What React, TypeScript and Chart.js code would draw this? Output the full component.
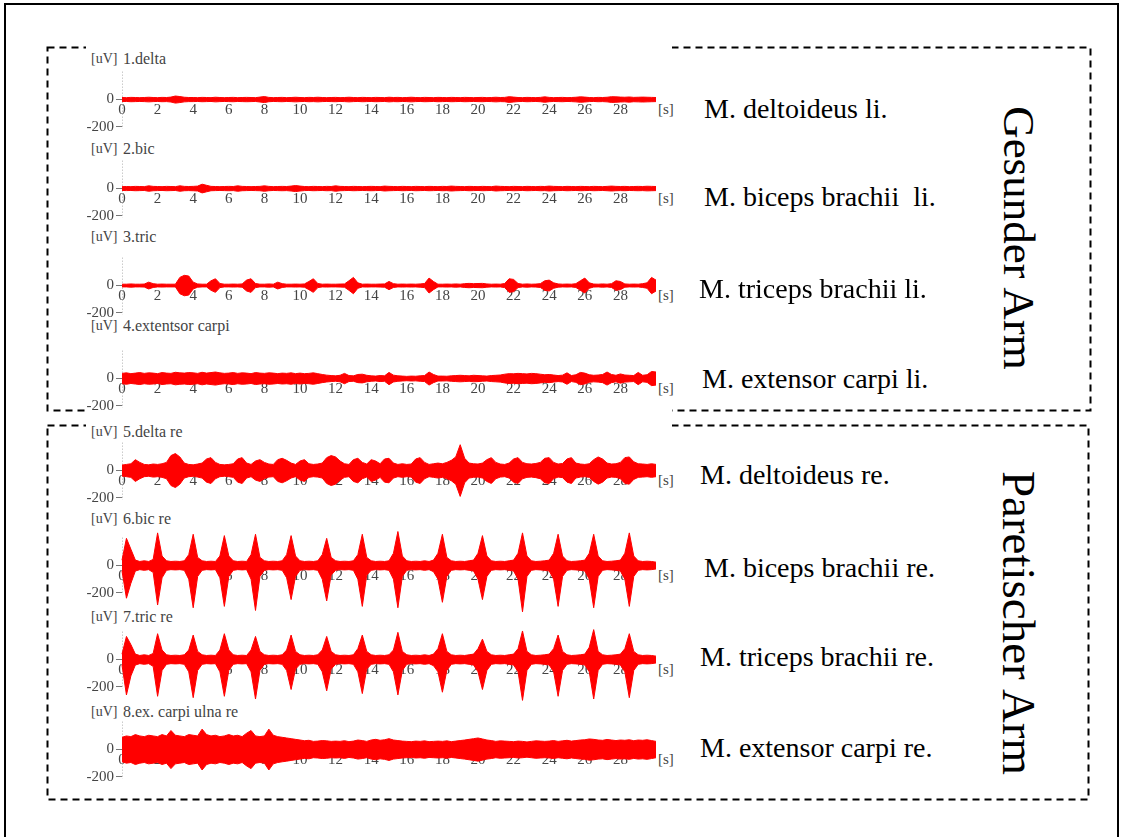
import React, { useEffect, useRef } from 'react';
import { Chart, registerables } from 'chart.js';

Chart.register(...registerables);

// ---------------- data ----------------
const TIME_STEP = 0.25; // seconds between envelope samples
const X_MAX = 30;
const X_TICKS = [0, 2, 4, 6, 8, 10, 12, 14, 16, 18, 20, 22, 24, 26, 28];
const Y_TICKS = [0, -200];
const Y_UNIT = '[uV]';
const X_UNIT = '[s]';

const PANEL_TITLES = [
  '1.delta',
  '2.bic',
  '3.tric',
  '4.extentsor carpi',
  '5.delta re',
  '6.bic re',
  '7.tric re',
  '8.ex. carpi ulna re',
];

const MUSCLE_LABELS = [
  'M. deltoideus li.',
  'M. biceps brachii  li.',
  'M. triceps brachii li.',
  'M. extensor carpi li.',
  'M. deltoideus re.',
  'M. biceps brachii re.',
  'M. triceps brachii re.',
  'M. extensor carpi re.',
];

const GROUP_LABELS = ['Gesunder Arm', 'Paretischer Arm'];

// EMG envelopes in uV, one value every 0.25 s (0 .. 30 s); upper (positive) side
const AMP_1 = [
  15, 14, 16, 15, 14, 15, 17, 15,
  14, 16, 15, 18, 26, 22, 17, 15,
  15, 14, 16, 15, 14, 17, 15, 14,
  15, 16, 14, 15, 16, 15, 14, 18,
  22, 16, 14, 15, 16, 14, 15, 17,
  15, 14, 16, 15, 17, 15, 14, 15,
  16, 14, 15, 17, 15, 14, 16, 15,
  14, 16, 15, 14, 17, 15, 16, 14,
  15, 17, 15, 14, 16, 15, 14, 16,
  15, 14, 16, 15, 14, 16, 15, 14,
  15, 16, 14, 15, 17, 15, 16, 21,
  18, 15, 14, 16, 15, 14, 16, 20,
  16, 14, 15, 16, 14, 15, 17, 20,
  18, 15, 14, 16, 15, 17, 21, 20,
  18, 17, 19, 16, 17, 18, 17, 16,
  15,
];

const AMP_2 = [
  14, 15, 14, 16, 15, 14, 20, 16,
  15, 14, 16, 15, 14, 20, 16, 15,
  16, 18, 32, 24, 16, 15, 14, 15,
  16, 15, 20, 16, 15, 14, 15, 16,
  20, 16, 14, 15, 16, 15, 18, 22,
  18, 15, 14, 16, 15, 14, 16, 15,
  20, 16, 15, 14, 16, 15, 14, 15,
  16, 15, 14, 18, 16, 15, 14, 16,
  15, 14, 16, 15, 14, 16, 15, 14,
  16, 15, 18, 16, 15, 14, 16, 15,
  14, 16, 15, 14, 18, 16, 15, 14,
  16, 15, 14, 16, 15, 14, 16, 15,
  18, 16, 15, 14, 16, 15, 14, 16,
  15, 14, 16, 15, 14, 16, 18, 16,
  15, 16, 14, 15, 16, 15, 17, 16,
  15,
];

const AMP_3 = [
  10, 10, 12, 10, 10, 11, 25, 14,
  10, 11, 10, 10, 10, 60, 75, 70,
  25, 12, 10, 10, 35, 50, 15, 10,
  10, 11, 10, 12, 40, 50, 15, 10,
  10, 12, 10, 25, 14, 10, 10, 11,
  10, 12, 30, 50, 15, 10, 11, 10,
  10, 11, 12, 35, 60, 20, 10, 11,
  10, 10, 11, 12, 30, 14, 10, 11,
  10, 11, 10, 12, 15, 55, 30, 10,
  10, 11, 10, 12, 10, 14, 16, 14,
  15, 16, 12, 10, 11, 10, 15, 50,
  45, 15, 10, 12, 10, 11, 14, 35,
  40, 20, 12, 10, 11, 10, 14, 35,
  55, 20, 11, 10, 12, 10, 14, 35,
  30, 12, 10, 11, 10, 14, 20, 60,
  40,
];

const AMP_4 = [
  38, 42, 36, 40, 44, 38, 42, 40,
  36, 44, 40, 38, 46, 42, 40, 44,
  42, 38, 46, 40, 44, 48, 42, 38,
  40, 44, 38, 42, 40, 36, 44, 40,
  38, 42, 40, 36, 40, 38, 42, 36,
  40, 36, 38, 42, 36, 30, 25, 22,
  20, 24, 38, 22, 20, 30, 32, 24,
  20, 18, 22, 20, 45, 25, 20, 18,
  16, 18, 17, 20, 22, 48, 30, 18,
  18, 17, 20, 22, 24, 22, 20, 24,
  22, 20, 18, 22, 24, 26, 32, 36,
  35, 38, 36, 34, 38, 36, 32, 28,
  30, 26, 22, 25, 42, 22, 28, 45,
  40, 28, 24, 26, 30, 48, 30, 24,
  34, 26, 24, 22, 45, 24, 28, 52,
  48,
];

const AMP_5 = [
  40, 45, 50, 80, 60, 45, 42, 48,
  45, 50, 60, 110, 125, 100, 55, 45,
  42, 48, 55, 85, 95, 60, 45, 42,
  45, 50, 85, 95, 55, 45, 70, 80,
  60, 48, 45, 80, 90, 75, 55, 45,
  70, 80, 50, 45, 48, 55, 95, 110,
  100, 70, 50, 45, 80, 90, 60, 48,
  80, 70, 50, 85, 90, 55, 45, 50,
  45, 48, 85, 95, 60, 45, 50, 55,
  50, 60, 75, 100, 190, 90, 55, 50,
  48, 55, 80, 95, 60, 48, 45, 55,
  85, 95, 60, 50, 48, 52, 60, 90,
  95, 60, 48, 52, 85, 95, 55, 48,
  45, 50, 80, 100, 85, 55, 48, 50,
  60, 95, 100, 65, 50, 48, 45, 50,
  45,
];

const AMP_6_UP = [
  40, 200, 120, 40, 30, 35, 30, 45,
  240, 70, 35, 30, 32, 30, 35, 80,
  230, 60, 35, 30, 32, 30, 70, 220,
  70, 35, 30, 32, 30, 80, 230, 60,
  35, 30, 32, 30, 35, 80, 220, 70,
  35, 30, 32, 30, 35, 80, 200, 60,
  35, 30, 32, 30, 35, 80, 230, 60,
  35, 30, 32, 30, 35, 90, 250, 70,
  35, 30, 32, 30, 35, 30, 40, 90,
  230, 60, 35, 30, 32, 30, 35, 40,
  90, 220, 70, 35, 30, 32, 30, 35,
  40, 90, 240, 70, 35, 30, 32, 35,
  40, 90, 230, 70, 35, 30, 32, 35,
  40, 90, 230, 70, 35, 30, 32, 35,
  40, 90, 240, 70, 35, 30, 32, 30,
  25,
];

const AMP_6_DOWN = [
  40, 240, 130, 40, 30, 35, 30, 50,
  290, 90, 35, 30, 32, 30, 35, 100,
  310, 80, 35, 30, 32, 30, 90, 300,
  80, 35, 30, 32, 30, 100, 330, 80,
  35, 30, 32, 30, 35, 90, 250, 80,
  35, 30, 32, 30, 35, 100, 260, 70,
  35, 30, 32, 30, 35, 100, 300, 70,
  35, 30, 32, 30, 35, 100, 310, 80,
  35, 30, 32, 30, 35, 30, 45, 100,
  270, 80, 35, 30, 32, 30, 35, 40,
  100, 250, 80, 35, 30, 32, 30, 35,
  40, 100, 340, 80, 35, 30, 32, 35,
  40, 100, 300, 80, 35, 30, 32, 35,
  40, 100, 310, 80, 35, 30, 32, 35,
  40, 100, 300, 80, 35, 30, 32, 30,
  25,
];

const AMP_7_UP = [
  40, 170, 110, 40, 30, 35, 30, 45,
  190, 70, 35, 30, 32, 30, 35, 70,
  180, 60, 35, 30, 32, 30, 70, 190,
  70, 35, 30, 32, 30, 70, 170, 60,
  35, 30, 32, 30, 35, 70, 180, 60,
  35, 30, 32, 30, 35, 70, 170, 60,
  35, 30, 32, 30, 35, 80, 180, 60,
  35, 30, 32, 30, 35, 70, 200, 60,
  35, 30, 32, 30, 35, 30, 40, 80,
  190, 60, 35, 30, 32, 30, 35, 40,
  80, 150, 60, 35, 30, 32, 30, 35,
  40, 80, 210, 60, 35, 30, 32, 35,
  40, 80, 180, 60, 35, 30, 32, 35,
  40, 90, 220, 60, 35, 30, 32, 35,
  40, 80, 190, 60, 35, 30, 32, 30,
  25,
];

const AMP_7_DOWN = [
  40, 260, 120, 40, 30, 35, 30, 50,
  270, 80, 35, 30, 32, 30, 35, 90,
  280, 80, 35, 30, 32, 30, 90, 270,
  80, 35, 30, 32, 30, 90, 290, 80,
  35, 30, 32, 30, 35, 80, 220, 70,
  35, 30, 32, 30, 35, 90, 230, 70,
  35, 30, 32, 30, 35, 90, 250, 70,
  35, 30, 32, 30, 35, 90, 260, 80,
  35, 30, 32, 30, 35, 30, 45, 90,
  240, 80, 35, 30, 32, 30, 35, 40,
  90, 220, 80, 35, 30, 32, 30, 35,
  40, 90, 300, 80, 35, 30, 32, 35,
  40, 90, 270, 80, 35, 30, 32, 35,
  40, 90, 290, 80, 35, 30, 32, 35,
  40, 90, 280, 80, 35, 30, 32, 30,
  25,
];

const AMP_8 = [
  90, 100, 95, 110, 100, 95, 105, 100,
  95, 110, 100, 140, 105, 100, 95, 110,
  105, 100, 150, 110, 100, 105, 95, 100,
  110, 100, 105, 95, 120, 140, 100, 95,
  100, 150, 105, 95, 90, 85, 80, 75,
  70, 65, 68, 60, 62, 66, 64, 60,
  62, 60, 65, 58, 62, 70, 66, 60,
  70, 75, 68, 72, 80, 70, 66, 62,
  60, 58, 62, 60, 64, 58, 60, 62,
  60, 64, 58, 62, 66, 70, 75, 80,
  85, 78, 70, 66, 60, 64, 62, 60,
  58, 62, 60, 56, 60, 64, 62, 60,
  62, 66, 60, 64, 68, 62, 66, 70,
  72, 78, 75, 70, 68, 74, 70, 66,
  70, 68, 72, 65, 70, 68, 72, 66,
  60,
];

const PANEL_UP = [AMP_1, AMP_2, AMP_3, AMP_4, AMP_5, AMP_6_UP, AMP_7_UP, AMP_8];
const PANEL_DOWN = [AMP_1, AMP_2, AMP_3, AMP_4, AMP_5, AMP_6_DOWN, AMP_7_DOWN, AMP_8];

// ---------------- layout ----------------
const SERIF = "'Liberation Serif', 'DejaVu Serif', 'Times New Roman', Times, serif";
const RED = 'rgb(255,0,0)';
const ZERO_Y = [99, 188, 285, 378, 470, 565, 659, 749];
const TITLE_Y = [59, 149, 237, 326, 432, 519, 617, 712];
const LABEL_Y = [109, 197, 289, 379, 475, 568, 657, 748];
const LABEL_X = [704, 704, 699, 702, 700, 704, 700, 700];
const CANVAS_LEFT = 60;
const CANVAS_W = 640;
const CANVAS_H = 120;
const Y_MIN = -400;
const Y_MAX = 320;
const PAD_TOP = 2;
const PAD_BOTTOM = 2;
const ZERO_OFFSET = PAD_TOP + ((CANVAS_H - PAD_TOP - PAD_BOTTOM) * Y_MAX) / (Y_MAX - Y_MIN);

const axisDots = {
  id: 'axisDots',
  beforeDatasetsDraw(chart: any) {
    const { ctx, chartArea, scales } = chart;
    const y = scales.y;
    ctx.save();
    ctx.strokeStyle = '#b0b0b0';
    ctx.lineWidth = 1;
    ctx.setLineDash([1, 2]);
    ctx.beginPath();
    const x = Math.round(chartArea.left) + 0.5;
    ctx.moveTo(x, y.getPixelForValue(205));
    ctx.lineTo(x, y.getPixelForValue(-215));
    ctx.stroke();
    ctx.restore();
  },
};

function EmgPanel({ index }: { index: number }) {
  const ref = useRef<HTMLCanvasElement>(null);
  useEffect(() => {
    const up = PANEL_UP[index];
    const down = PANEL_DOWN[index];
    const chart = new Chart(ref.current as HTMLCanvasElement, {
      type: 'line',
      data: {
        datasets: [
          {
            data: up.map((v, i) => ({ x: i * TIME_STEP, y: v })),
            borderColor: RED,
            backgroundColor: RED,
            borderWidth: 1,
            pointRadius: 0,
            tension: 0,
            fill: false,
            clip: false as any,
          },
          {
            data: down.map((v, i) => ({ x: i * TIME_STEP, y: -v })),
            borderColor: RED,
            backgroundColor: RED,
            borderWidth: 1,
            pointRadius: 0,
            tension: 0,
            fill: '-1',
            clip: false as any,
          },
        ],
      },
      options: {
        responsive: false,
        animation: false,
        devicePixelRatio: 1,
        events: [],
        layout: { padding: { left: 0, right: 44, top: PAD_TOP, bottom: PAD_BOTTOM } },
        plugins: {
          legend: { display: false },
          tooltip: { enabled: false },
          title: { display: false },
        },
        scales: {
          x: {
            type: 'linear',
            min: 0,
            max: X_MAX,
            position: { y: 0 } as any,
            afterBuildTicks: (s: any) => {
              s.ticks = X_TICKS.map((v) => ({ value: v }));
            },
            grid: { display: false, drawTicks: false },
            border: { display: false },
            ticks: {
              font: { family: SERIF, size: 15 },
              color: '#444',
              padding: 2,
              maxRotation: 0,
              autoSkip: false,
            },
          },
          y: {
            type: 'linear',
            min: Y_MIN,
            max: Y_MAX,
            position: 'left',
            afterFit: (s: any) => {
              s.width = 62;
            },
            afterBuildTicks: (s: any) => {
              s.ticks = Y_TICKS.map((v) => ({ value: v }));
            },
            grid: { drawOnChartArea: false, drawTicks: true, tickLength: 6, color: '#777' },
            border: { display: false },
            ticks: {
              font: { family: SERIF, size: 15 },
              color: '#444',
              padding: 2,
            },
          },
        },
      },
      plugins: [axisDots],
    } as any);
    return () => chart.destroy();
  }, [index]);

  return (
    <canvas
      ref={ref}
      width={CANVAS_W}
      height={CANVAS_H}
      style={{
        position: 'absolute',
        left: CANVAS_LEFT,
        top: ZERO_Y[index] - ZERO_OFFSET,
        width: CANVAS_W,
        height: CANVAS_H,
      }}
    />
  );
}

export default function App() {
  const smallText: React.CSSProperties = {
    position: 'absolute',
    fontFamily: SERIF,
    fontSize: 15,
    lineHeight: '18px',
    color: '#444',
    whiteSpace: 'pre',
  };
  return (
    <div
      style={{
        position: 'absolute',
        left: 0,
        top: 0,
        width: 1123,
        height: 837,
        background: '#fff',
        overflow: 'hidden',
        fontFamily: SERIF,
      }}
    >
      <svg width={1123} height={837} style={{ position: 'absolute', left: 0, top: 0 }}>
        <rect x={5} y={4} width={1113} height={840} fill="none" stroke="#000" strokeWidth={2} />
        <rect x={47.5} y={47.5} width={1043} height={363} fill="none" stroke="#000" strokeWidth={2} strokeDasharray="7 5" />
        <rect x={47.5} y={425.5} width={1041} height={374} fill="none" stroke="#000" strokeWidth={2} strokeDasharray="7 5" />
        <rect x={86} y={40} width={586} height={754} fill="#fff" />
      </svg>

      {PANEL_TITLES.map((t, i) => (
        <React.Fragment key={'t' + i}>
          <span style={{ ...smallText, fontSize: 14, left: 91, top: TITLE_Y[i] - 9 }}>{Y_UNIT}</span>
          <span style={{ ...smallText, fontSize: 16, left: 123, top: TITLE_Y[i] - 9 }}>{t}</span>
          <span style={{ ...smallText, left: 658, top: ZERO_Y[i] + 1 }}>{X_UNIT}</span>
        </React.Fragment>
      ))}

      {PANEL_TITLES.map((_, i) => (
        <EmgPanel key={'p' + i} index={i} />
      ))}

      {MUSCLE_LABELS.map((m, i) => (
        <span
          key={'m' + i}
          style={{
            position: 'absolute',
            left: LABEL_X[i],
            top: LABEL_Y[i] - 16,
            fontFamily: SERIF,
            fontSize: 28,
            lineHeight: '32px',
            color: '#000',
            whiteSpace: 'pre',
          }}
        >
          {m}
        </span>
      ))}

      {GROUP_LABELS.map((g, i) => (
        <span
          key={'g' + i}
          style={{
            position: 'absolute',
            left: 1018,
            top: i === 0 ? 238 : 623,
            transform: 'translate(-50%, -50%) rotate(90deg)',
            fontFamily: SERIF,
            fontSize: i === 0 ? 45 : 47,
            lineHeight: '47px',
            color: '#000',
            whiteSpace: 'nowrap',
          }}
        >
          {g}
        </span>
      ))}
    </div>
  );
}
